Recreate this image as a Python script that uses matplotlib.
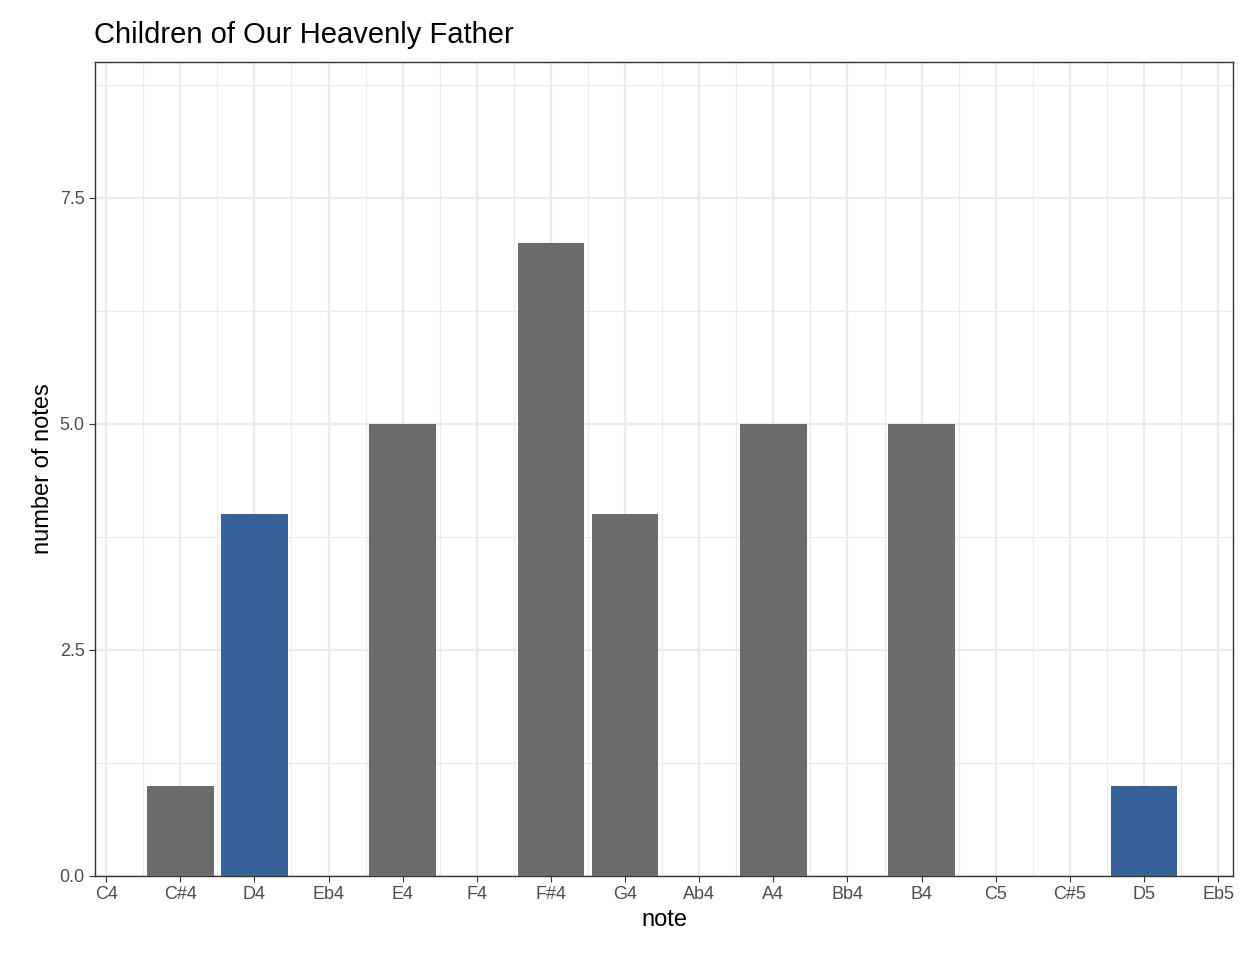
import matplotlib
matplotlib.use("Agg")
import matplotlib.pyplot as plt
import numpy as np

notes = ["C4","C#4","D4","Eb4","E4","F4","F#4","G4","Ab4","A4","Bb4","B4","C5","C#5","D5","Eb5"]
counts = [0,1,4,0,5,0,7,4,0,5,0,5,0,0,1,0]
highlight = [False,False,True,False,False,False,False,False,False,False,False,False,False,False,True,False]

plt.rcParams['font.family'] = ['Liberation Sans', 'DejaVu Sans']
fig = plt.figure(figsize=(12.48, 9.6), dpi=100)
ax = fig.add_axes([95/1248, 1-876/960, (1233-95)/1248, (876-62)/960])
x = np.arange(len(notes))
for xi, c, h in zip(x, counts, highlight):
    if c > 0:
        ax.bar(xi, c, width=0.9, color="#366299" if h else "#6B6B6B", zorder=3)
ax.set_xlim(-0.15, 15.2)
ax.set_ylim(0, 9)
ax.set_xticks(x)
ax.set_xticklabels(notes)
ax.set_xticks(x[:-1] + 0.5, minor=True)
ax.set_yticks([0, 2.5, 5, 7.5])
ax.set_yticklabels(["0.0", "2.5", "5.0", "7.5"])
ax.set_yticks([1.25, 3.75, 6.25, 8.75], minor=True)
ax.grid(which="major", color="#EBEBEB", linewidth=1.6, zorder=0)
ax.grid(which="minor", color="#EBEBEB", linewidth=0.8, zorder=0)
ax.tick_params(which="minor", length=0)
ax.tick_params(which="major", length=4, color="#333333", labelsize=13, labelcolor="#4D4D4D")
for s in ax.spines.values():
    s.set_color("#333333"); s.set_linewidth(1)
ax.set_xlabel("note", fontsize=17)
ax.set_ylabel("number of notes", fontsize=17)
ax.set_title("Children of Our Heavenly Father", fontsize=21, loc="left", x=-0.001, pad=14)
fig.savefig("out.png", dpi=100)
